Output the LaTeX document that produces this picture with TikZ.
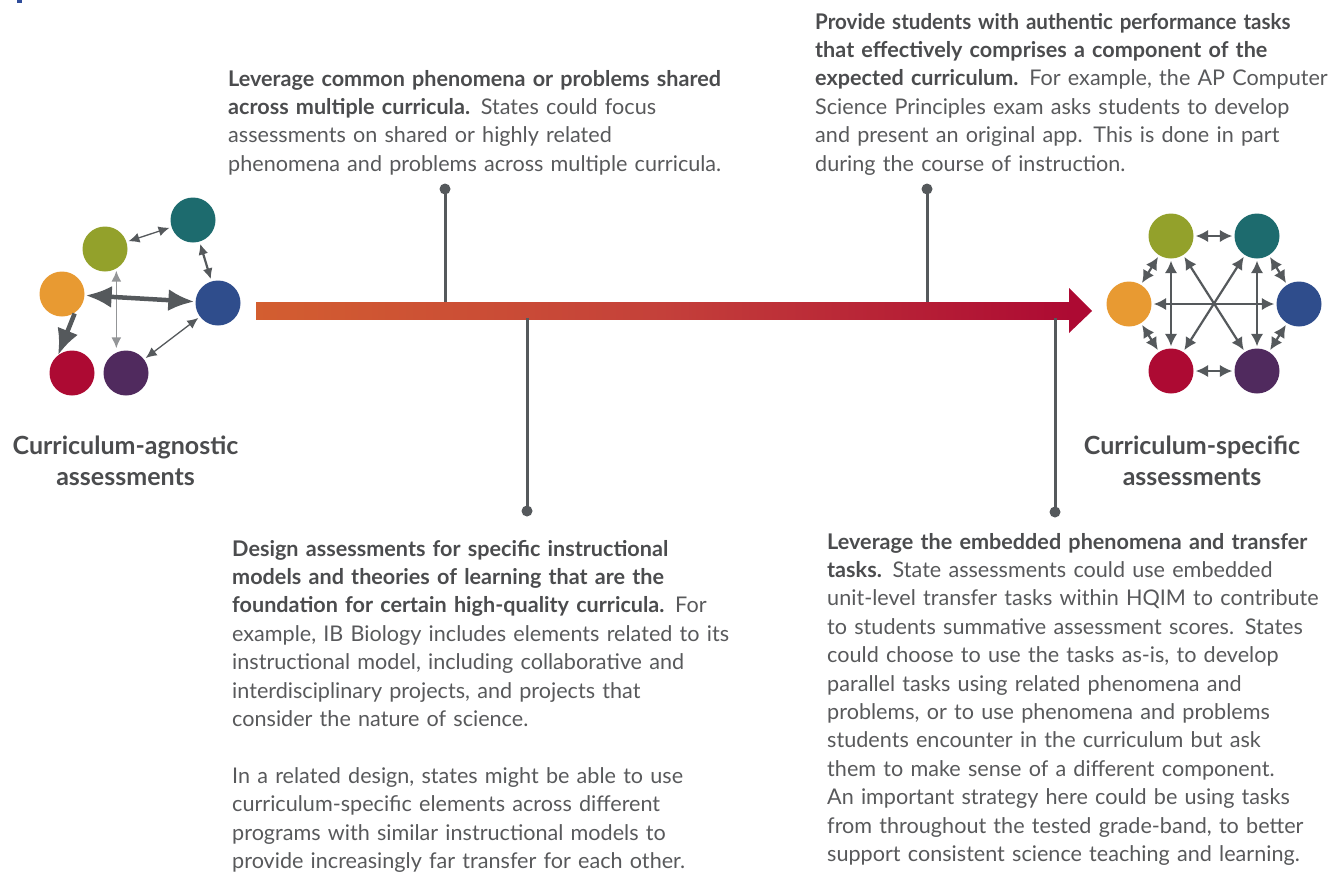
\documentclass[tikz,border=0pt]{standalone}
\usepackage{fontspec}
\setmainfont{Lato}
\usetikzlibrary{arrows.meta}
\definecolor{cteal}{HTML}{1D6B6E}
\definecolor{colive}{HTML}{93A12B}
\definecolor{corange}{HTML}{E89A32}
\definecolor{cblue}{HTML}{2F4D8C}
\definecolor{ccrimson}{HTML}{AD0A33}
\definecolor{cpurple}{HTML}{502A5E}
\definecolor{cgray}{HTML}{55595C}
\definecolor{clight}{HTML}{939597}
\definecolor{ctext}{HTML}{58595B}
\definecolor{cbold}{HTML}{4B4C4E}
\definecolor{cbarl}{HTML}{D35E30}
\definecolor{cbarm}{HTML}{C4403A}
\definecolor{cbarr}{HTML}{AD0A33}
\definecolor{chead}{HTML}{2F4D9A}
\newcommand{\bt}[1]{{\bfseries\color{cbold}#1}}
\begin{document}
\begin{tikzpicture}[x=1pt,y=-1pt,
  dot/.style={circle,minimum size=45pt,inner sep=0pt,draw=none},
  body/.style={anchor=base west,align=left,inner sep=0pt,text width=580pt,
    font=\fontsize{21.6}{28.4}\selectfont,text=ctext},
  lab/.style={anchor=base,align=center,inner sep=0pt,
    font=\bfseries\fontsize{25}{31}\selectfont,text=cbold},
  pin/.style={draw=cgray,line width=3pt},
  pinend/.style={circle,fill=cgray,minimum size=11pt,inner sep=0pt},
  thin/.style={draw=cgray,line width=1.3pt,{Latex[length=11pt,width=10pt]}-{Latex[length=11pt,width=10pt]},shorten <=2pt,shorten >=2pt},
  med/.style={draw=cgray,line width=2.2pt,{Latex[length=12.5pt,width=12.5pt]}-{Latex[length=12.5pt,width=12.5pt]},shorten <=2pt,shorten >=2pt},
  thick/.style={draw=cgray,line width=4.5pt,{Latex[length=26pt,width=22pt]}-{Latex[length=26pt,width=22pt]},shorten <=1pt,shorten >=1pt}
]
\useasboundingbox (0,0) rectangle (1340,871);
\fill[chead] (17,0) rectangle (22,2.5);

% bar arrow
\shade[left color=cbarl,right color=cbarm] (256,302) rectangle (663,319);
\shade[left color=cbarm,right color=cbarr] (662,302) rectangle (1070,319);
\fill[cbarr] (1069,288) -- (1092,311) -- (1069,333) -- cycle;
\coordinate (bartop1) at (445,302);
\coordinate (bartop2) at (927,302);
\coordinate (barbot1) at (527,318);
\coordinate (barbot2) at (1055,318);

% pins
\node[pinend] (p1) at (445,189) {};
\node[pinend] (p2) at (927,189) {};
\node[pinend] (p3) at (527,511) {};
\node[pinend] (p4) at (1055,512) {};
\draw[pin] (p1.center) -- (bartop1);
\draw[pin] (p2.center) -- (bartop2);
\draw[pin] (p3.center) -- (barbot1);
\draw[pin] (p4.center) -- (barbot2);

% left graph
\node[dot,fill=cteal] (lteal) at (193,220) {};
\node[dot,fill=colive] (lolive) at (105,249) {};
\node[dot,fill=corange] (lorange) at (62,294) {};
\node[dot,fill=cblue] (lblue) at (218,303) {};
\node[dot,fill=ccrimson] (lcrimson) at (72,373) {};
\node[dot,fill=cpurple] (lpurple) at (126,373) {};
\draw[thin] (lolive) -- (lteal);
\draw[thin,line width=2.2pt] (lteal) -- (lblue);
\draw[thin] (lpurple) -- (lblue);
\draw[thin,draw=clight,line width=1.6pt] (lolive.-60) -- (lolive.-60 |- lpurple.north);
\draw[thick] (lorange) -- (lblue);
\draw[draw=cgray,line width=4.5pt,-{Latex[length=26pt,width=22pt]},shorten <=1pt] (lorange.-55) -- (lcrimson.128);

% right graph
\node[dot,fill=colive] (rolive) at (1171,236) {};
\node[dot,fill=cteal] (rteal) at (1257,236) {};
\node[dot,fill=corange] (rorange) at (1129,304) {};
\node[dot,fill=cblue] (rblue) at (1299,304) {};
\node[dot,fill=ccrimson] (rcrimson) at (1171,371) {};
\node[dot,fill=cpurple] (rpurple) at (1257,371) {};
\draw[med] (rolive) -- (rteal);
\draw[med] (rteal) -- (rblue);
\draw[med] (rblue) -- (rpurple);
\draw[med] (rpurple) -- (rcrimson);
\draw[med] (rcrimson) -- (rorange);
\draw[med] (rorange) -- (rolive);
\draw[med] (rolive) -- (rcrimson);
\draw[med] (rteal) -- (rpurple);
\draw[med] (rorange) -- (rblue);
\draw[med] (rolive) -- (rpurple);
\draw[med] (rteal) -- (rcrimson);

% labels
\node[lab] (labl) at (125.5,485) {Curriculum-agnostic\\assessments};
\node[lab] (labr) at (1192,485) {Curriculum-specific\\assessments};

% text blocks
\node[body] (t1) at (228,86) {\bt{Leverage common phenomena or problems shared}\\
\bt{across multiple curricula.} States could focus\\
assessments on shared or highly related\\
phenomena and problems across multiple curricula.};

\node[body] (t2) at (815,29) {\scalebox{0.952}[1]{\bt{Provide students with authentic performance tasks}}\\
\bt{that effectively comprises a component of the}\\
\bt{expected curriculum.} For example, the AP Computer\\
Science Principles exam asks students to develop\\
and present an original app. This is done in part\\
during the course of instruction.};

\node[body] (t3) at (232,556) {\bt{Design assessments for specific instructional}\\
\bt{models and theories of learning that are the}\\
\bt{foundation for certain high-quality curricula.} For\\
example, IB Biology includes elements related to its\\
instructional model, including collaborative and\\
interdisciplinary projects, and projects that\\
consider the nature of science.\\[28.4pt]
In a related design, states might be able to use\\
curriculum-specific elements across different\\
programs with similar instructional models to\\
provide increasingly far transfer for each other.};

\node[body] (t4) at (827,549) {\bt{Leverage the embedded phenomena and transfer}\\
\bt{tasks.} State assessments could use embedded\\
unit-level transfer tasks within HQIM to contribute\\
to students summative assessment scores. States\\
could choose to use the tasks as-is, to develop\\
parallel tasks using related phenomena and\\
problems, or to use phenomena and problems\\
students encounter in the curriculum but ask\\
them to make sense of a different component.\\
An important strategy here could be using tasks\\
from throughout the tested grade-band, to better\\
support consistent science teaching and learning.};
\end{tikzpicture}
\end{document}
